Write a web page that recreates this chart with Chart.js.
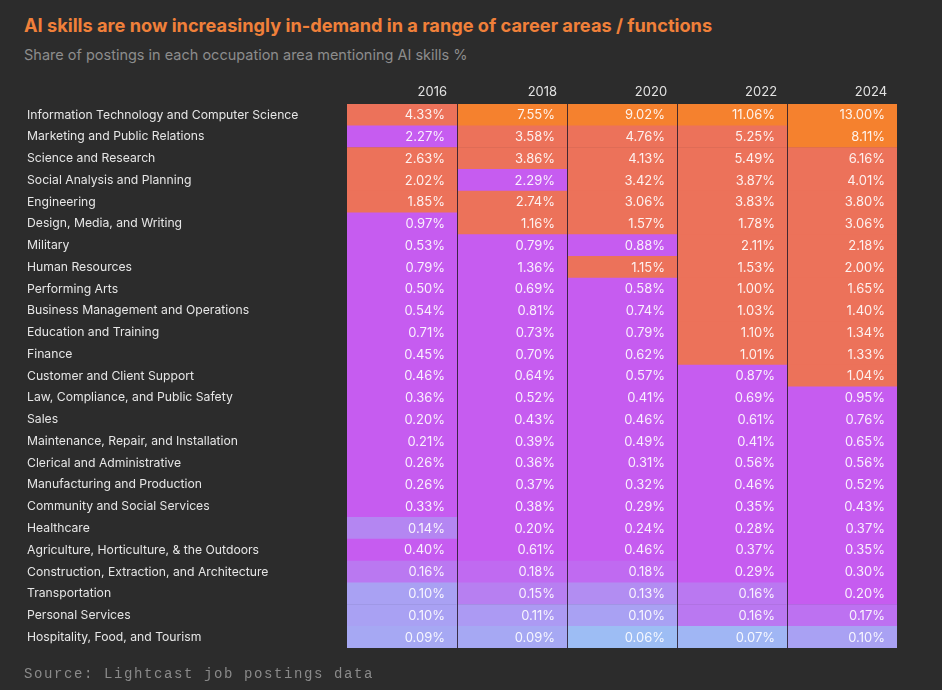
<!DOCTYPE html>
<html>
<head>
<meta charset="utf-8">
<script src="https://cdn.jsdelivr.net/npm/chart.js@4.4.1/dist/chart.umd.min.js"></script>
<style>
  html, body { margin: 0; padding: 0; background: #2c2c2c; }
  #wrap { position: relative; width: 942px; height: 690px; overflow: hidden; }
  #chart { position: absolute; left: 0; top: 0; }
  .title { position: absolute; left: 24px; top: 14px; font: 700 18.2px Inter, sans-serif; color: #f0803a; white-space: nowrap; }
  .subtitle { position: absolute; left: 24px; top: 46px; font: 400 14.5px Inter, sans-serif; color: #8d8d8d; white-space: nowrap; }
  .source { position: absolute; left: 24px; top: 666px; font: 400 14px "Liberation Mono", monospace; letter-spacing: 1.6px; color: #8a8a8a; white-space: nowrap; }
</style>
</head>
<body>
<div id="wrap">
  <div class="title">AI skills are now increasingly in-demand in a range of career areas / functions</div>
  <div class="subtitle">Share of postings in each occupation area mentioning AI skills %</div>
  <canvas id="chart" width="942" height="690"></canvas>
  <div class="source">Source: Lightcast job postings data</div>
</div>
<script>
// column headers
const years = ['2016', '2018', '2020', '2022', '2024'];

// occupation areas, top to bottom
const occupations = [
  'Information Technology and Computer Science',
  'Marketing and Public Relations',
  'Science and Research',
  'Social Analysis and Planning',
  'Engineering',
  'Design, Media, and Writing',
  'Military',
  'Human Resources',
  'Performing Arts',
  'Business Management and Operations',
  'Education and Training',
  'Finance',
  'Customer and Client Support',
  'Law, Compliance, and Public Safety',
  'Sales',
  'Maintenance, Repair, and Installation',
  'Clerical and Administrative',
  'Manufacturing and Production',
  'Community and Social Services',
  'Healthcare',
  'Agriculture, Horticulture, & the Outdoors',
  'Construction, Extraction, and Architecture',
  'Transportation',
  'Personal Services',
  'Hospitality, Food, and Tourism'
];

// share of postings mentioning AI skills (%), one array per year
const share2016 = [4.33, 2.27, 2.63, 2.02, 1.85, 0.97, 0.53, 0.79, 0.50, 0.54, 0.71, 0.45, 0.46, 0.36, 0.20, 0.21, 0.26, 0.26, 0.33, 0.14, 0.40, 0.16, 0.10, 0.10, 0.09];
const share2018 = [7.55, 3.58, 3.86, 2.29, 2.74, 1.16, 0.79, 1.36, 0.69, 0.81, 0.73, 0.70, 0.64, 0.52, 0.43, 0.39, 0.36, 0.37, 0.38, 0.20, 0.61, 0.18, 0.15, 0.11, 0.09];
const share2020 = [9.02, 4.76, 4.13, 3.42, 3.06, 1.57, 0.88, 1.15, 0.58, 0.74, 0.79, 0.62, 0.57, 0.41, 0.46, 0.49, 0.31, 0.32, 0.29, 0.24, 0.46, 0.18, 0.13, 0.10, 0.06];
const share2022 = [11.06, 5.25, 5.49, 3.87, 3.83, 1.78, 2.11, 1.53, 1.00, 1.03, 1.10, 1.01, 0.87, 0.69, 0.61, 0.41, 0.56, 0.46, 0.35, 0.28, 0.37, 0.29, 0.16, 0.16, 0.07];
const share2024 = [13.00, 8.11, 6.16, 4.01, 3.80, 3.06, 2.18, 2.00, 1.65, 1.40, 1.34, 1.33, 1.04, 0.95, 0.76, 0.65, 0.56, 0.52, 0.43, 0.37, 0.35, 0.30, 0.20, 0.17, 0.10];

const shares = [share2016, share2018, share2020, share2022, share2024];

// cells the original shades in the purple band even though they are above 1%  [row, column]
const purpleOverrides = [[1, 0], [3, 1], [7, 1]];

function mix(a, b, t) {
  const pa = [1, 3, 5].map(i => parseInt(a.substr(i, 2), 16));
  const pb = [1, 3, 5].map(i => parseInt(b.substr(i, 2), 16));
  const c = pa.map((v, i) => Math.round(v + (pb[i] - v) * t));
  return 'rgb(' + c.join(',') + ')';
}

function cellColor(v, row, col) {
  const forced = purpleOverrides.some(p => p[0] === row && p[1] === col);
  if (forced) return '#c65cf0';
  if (v >= 7) return '#f5812e';
  if (v >= 1) return '#ec725a';
  if (v >= 0.2) return '#c65cf0';
  const t = Math.max(0, Math.min(1, (v - 0.06) / 0.14));
  return mix('#9dbdf4', '#c65cf0', t);
}

// writes the percentage into each cell
const cellLabels = {
  id: 'cellLabels',
  afterDatasetsDraw(chart) {
    const ctx = chart.ctx;
    ctx.save();
    ctx.font = '400 13px Inter, sans-serif';
    ctx.fillStyle = 'rgba(255,255,255,0.9)';
    ctx.textAlign = 'right';
    ctx.textBaseline = 'middle';
    chart.data.datasets.forEach((ds, di) => {
      chart.getDatasetMeta(di).data.forEach((bar, i) => {
        ctx.fillText(ds.data[i].v.toFixed(2) + '%', bar.x - 12, bar.y + 0.5);
      });
    });
    ctx.restore();
  }
};

Chart.defaults.font.family = 'Inter, sans-serif';

const datasets = years.map((yr, col) => ({
  label: yr,
  data: occupations.map((occ, row) => ({ y: occ, x: 1, v: shares[col][row] })),
  backgroundColor: occupations.map((occ, row) => cellColor(shares[col][row], row, col)),
  borderWidth: 0,
  barPercentage: 1,
  categoryPercentage: 1
}));

new Chart(document.getElementById('chart'), {
  type: 'bar',
  data: { labels: occupations, datasets },
  options: {
    indexAxis: 'y',
    responsive: false,
    animation: false,
    layout: { padding: { left: 27, top: 80, right: 45, bottom: 42 } },
    plugins: {
      legend: { display: false },
      tooltip: { enabled: false }
    },
    scales: {
      x: {
        type: 'linear',
        position: 'top',
        stacked: true,
        min: 0,
        max: years.length,
        grid: { display: false, drawTicks: false },
        border: { display: false },
        afterBuildTicks: scale => { scale.ticks = years.map((_, i) => ({ value: i + 0.91 })); },
        afterFit: scale => { scale.height = 24; },
        ticks: {
          align: 'end',
          autoSkip: false,
          maxRotation: 0,
          padding: 4,
          color: '#e2e2e2',
          font: { size: 13 },
          callback: (val, idx) => years[idx]
        }
      },
      // hidden axis whose grid lines separate the year columns, drawn over the cells
      xSep: {
        type: 'linear',
        position: 'bottom',
        min: 0,
        max: years.length,
        grid: { z: 1, color: 'rgba(38,26,42,0.85)', lineWidth: 1, drawTicks: false },
        border: { display: false },
        afterBuildTicks: scale => { scale.ticks = years.slice(1).map((_, i) => ({ value: i + 1 })); },
        afterFit: scale => { scale.height = 0; },
        ticks: { display: false }
      },
      y: {
        type: 'category',
        stacked: true,
        grid: { display: false, drawTicks: false },
        border: { display: false },
        afterFit: scale => { scale.width = 320; },
        ticks: {
          crossAlign: 'far',
          autoSkip: false,
          color: '#e6e6e6',
          font: { size: 12.2 }
        }
      }
    }
  },
  plugins: [cellLabels]
});
</script>
</body>
</html>
